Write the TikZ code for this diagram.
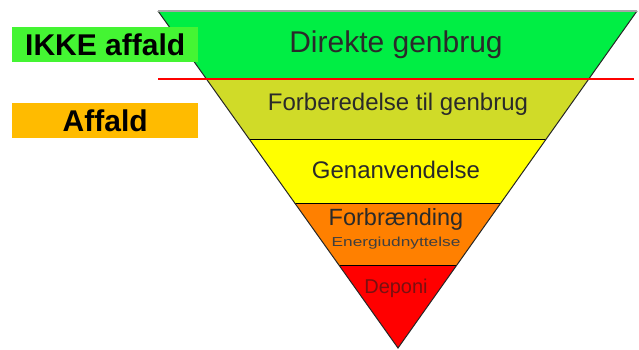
\documentclass[tikz,border=0pt]{standalone}
\usepackage{fontspec}
\setmainfont{Liberation Sans}
\definecolor{bandgreen}{HTML}{00EE44}
\definecolor{boxgreen}{HTML}{44F533}
\definecolor{bandolive}{HTML}{D0DB28}
\definecolor{bandyellow}{HTML}{FFFF00}
\definecolor{bandorange}{HTML}{FF8000}
\definecolor{bandred}{HTML}{FF0000}
\definecolor{boxorange}{HTML}{FFBB00}
\definecolor{txtgray}{HTML}{2A2A2A}
\definecolor{txtred}{HTML}{7A1010}
\tikzset{
  lbl/.style={text=txtgray, inner sep=0pt, anchor=center},
  sidebox/.style={minimum width=186pt, minimum height=35pt, inner sep=0pt, font=\bfseries\fontsize{30}{32}\selectfont, anchor=north west},
  sep/.style={black, line width=1pt}
}
\begin{document}
\begin{tikzpicture}[x=1pt,y=-1pt]
\useasboundingbox (0,0) rectangle (639,350);
\coordinate (A) at (158,11);
\coordinate (B) at (637,11);
\coordinate (C) at (398,348);
\begin{scope}
  \clip (A) -- (B) -- (C) -- cycle;
  \fill[bandgreen] (150,0) rectangle (640,79);
  \fill[bandolive] (150,79) rectangle (640,139);
  \fill[bandyellow] (150,139) rectangle (640,203);
  \fill[bandorange] (150,203) rectangle (640,265);
  \fill[bandred] (150,265) rectangle (640,350);
  \draw[sep] (150,139) -- (640,139);
  \draw[sep] (150,203) -- (640,203);
  \draw[sep] (150,265) -- (640,265);
\end{scope}
\draw[black!85, line width=1pt, line join=miter] (B) -- (C) -- (A);
\draw[gray!70, line width=1.2pt] (A) -- (B);
\coordinate (RL) at (158,79);
\coordinate (RR) at (634,79);
\draw[red, line width=1.8pt] (RL) -- (RR);
\node[sidebox, fill=boxgreen] (ikke) at (12,27) {IKKE affald};
\node[sidebox, fill=boxorange] (affald) at (12,103) {Affald};
\node[lbl, font=\fontsize{30}{34}\selectfont] (direkte) at (396,45) {Direkte genbrug};
\node[lbl, font=\fontsize{24}{28}\selectfont] (forb) at (398,104) {Forberedelse til genbrug};
\node[lbl, font=\fontsize{24}{28}\selectfont] (genan) at (396,170) {Genanvendelse};
\node[lbl, font=\fontsize{23.5}{27}\selectfont] (forbr) at (396,219) {Forbrænding};
\node[lbl, font=\fontsize{13}{15}\selectfont, xscale=1.33, text=txtgray!90] (energi) at (396,243) {Energiudnyttelse};
\node[lbl, font=\fontsize{20}{23}\selectfont, text=txtred] (deponi) at (396,288) {Deponi};
\end{tikzpicture}
\end{document}
